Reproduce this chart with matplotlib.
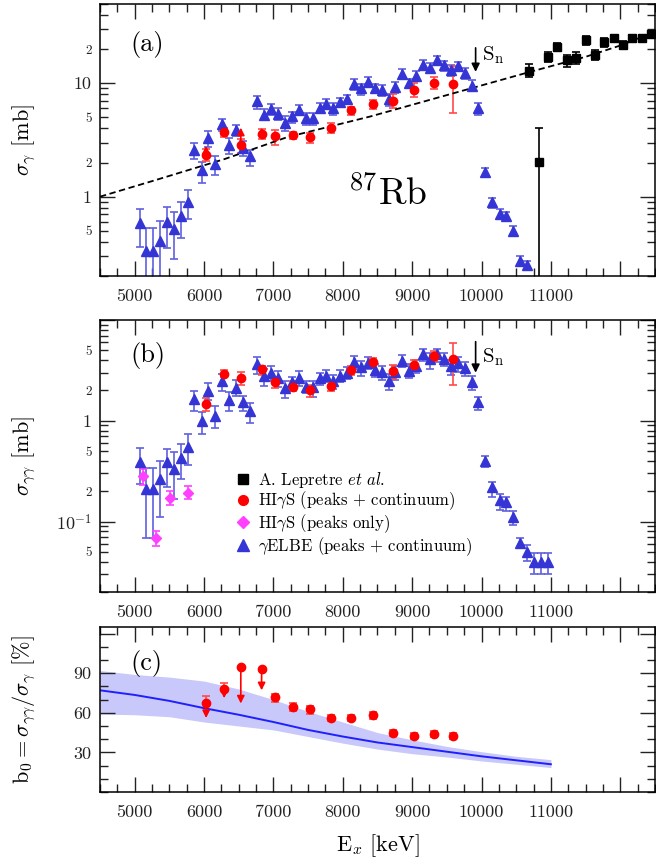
import numpy as np
import matplotlib.pyplot as plt
from matplotlib.ticker import FixedLocator, FuncFormatter, MultipleLocator
from matplotlib.lines import Line2D

plt.rcParams['font.family'] = 'cmr10'
plt.rcParams['mathtext.fontset'] = 'cm'
plt.rcParams['axes.formatter.use_mathtext'] = True
plt.rcParams['axes.unicode_minus'] = False

# ---- gELBE (peaks + continuum), same energies in (a) and (b)
elbe_E = [5070, 5170, 5270, 5370, 5465, 5565, 5665, 5765, 5860, 5965,
          6060, 6165, 6260, 6365, 6460, 6565, 6665, 6770, 6865, 6965,
          7065, 7165, 7265, 7365, 7465, 7565, 7665, 7760, 7860, 7965,
          8060, 8165, 8265, 8365, 8460, 8565, 8660, 8755, 8855, 8955,
          9055, 9160, 9260, 9360, 9460, 9560, 9655, 9760, 9860, 9955,
          10055, 10155, 10260, 10355, 10455, 10555, 10655, 10755, 10855, 10955]

elbe_sg = [0.586, 0.333, 0.333, 0.406, 0.598, 0.523, 0.67, 0.905, 2.60, 1.71,
           3.26, 1.95, 4.34, 2.87, 3.85, 2.69, 2.30, 6.93, 5.30, 5.94,
           5.41, 4.49, 5.13, 5.79, 4.96, 4.96, 6.06, 6.6, 6.06, 6.8,
           7.25, 9.8, 9.04, 10.3, 9.04, 8.8, 7.25, 9.2, 12.1, 10.1,
           11.6, 14.6, 13.7, 15.9, 14.4, 13.0, 14.1, 12.4, 9.5, 6.06,
           1.65, 0.893, 0.707, 0.67, 0.496, 0.272, 0.25]
elbe_sg_hi = [0.78, 0.53, 0.53, 0.606, 0.81, 0.74, 0.90, 1.14, 3.0, 2.01,
              3.8, 2.27, 4.86, 3.32, 4.3, 3.1, 2.6, 7.7, 5.9, 6.6,
              6.0, 5.1, 5.6, 6.4, 5.5, 5.5, 6.7, 7.3, 6.7, 7.4,
              7.9, 10.8, 9.9, 11.3, 9.9, 9.6, 8.0, 10.3, 13.3, 11.0,
              12.7, 16.0, 15.0, 17.4, 15.7, 14.4, 15.4, 13.6, 10.6, 6.7,
              1.78, 0.98, 0.78, 0.74, 0.55, 0.30, 0.27]
elbe_sg_lo = [0.36, 0.15, 0.15, 0.15, 0.355, 0.28, 0.434, 0.64, 2.13, 1.33,
              2.72, 1.54, 3.8, 2.37, 3.43, 2.3, 1.85, 5.9, 4.7, 5.2,
              4.7, 3.8, 4.5, 5.2, 4.3, 4.3, 5.5, 5.9, 5.2, 6.2,
              6.5, 8.8, 7.9, 9.3, 8.2, 7.7, 6.3, 8.2, 10.8, 9.2,
              10.4, 13.2, 12.3, 14.5, 12.9, 11.5, 12.7, 11.0, 8.5, 5.3,
              1.5, 0.80, 0.65, 0.61, 0.45, 0.25, 0.23]

elbe_sgg = [0.394, 0.209, 0.209, 0.263, 0.386, 0.331, 0.432, 0.552, 1.64, 1.0,
            1.96, 1.12, 2.49, 1.60, 2.11, 1.52, 1.24, 3.66, 2.76, 2.97,
            2.63, 2.11, 2.40, 2.63, 2.18, 2.14, 2.63, 2.80, 2.49, 2.80,
            2.95, 3.80, 3.39, 3.74, 3.19, 3.02, 2.49, 3.07, 3.94, 3.14,
            3.52, 4.59, 4.10, 4.59, 4.10, 3.52, 3.71, 3.31, 2.44, 1.52,
            0.40, 0.218, 0.163, 0.155, 0.112, 0.062, 0.050, 0.040, 0.040, 0.040]
elbe_sgg_hi = [0.543, 0.344, 0.344, 0.40, 0.53, 0.485, 0.595, 0.737, 1.98, 1.23,
               2.37, 1.39, 2.91, 1.91, 2.53, 1.77, 1.49, 4.32, 3.26, 3.52,
               3.14, 2.49, 2.74, 3.1, 2.49, 2.49, 3.0, 3.2, 2.87, 3.2,
               3.4, 4.4, 3.9, 4.3, 3.68, 3.52, 2.91, 3.52, 4.5, 3.68,
               4.0, 5.1, 4.7, 5.2, 4.7, 4.0, 4.3, 3.8, 2.8, 1.74,
               0.45, 0.245, 0.187, 0.177, 0.128, 0.069, 0.059, 0.049, 0.049, 0.049]
elbe_sgg_lo = [0.235, 0.069, 0.069, 0.11, 0.218, 0.167, 0.263, 0.365, 1.24, 0.737,
               1.60, 0.845, 1.98, 1.24, 1.77, 1.26, 0.96, 2.91, 2.23, 2.49,
               2.18, 1.68, 1.98, 2.23, 1.87, 1.74, 2.28, 2.43, 2.07, 2.43,
               2.6, 3.26, 2.8, 3.26, 2.69, 2.53, 2.0, 2.53, 3.39, 2.63,
               2.97, 3.94, 3.26, 3.86, 3.52, 2.87, 3.07, 2.8, 2.02, 1.27,
               0.35, 0.177, 0.13, 0.128, 0.093, 0.055, 0.041, 0.030, 0.030, 0.030]

# ---- HIgS (peaks + continuum)
higs_E = [6030, 6290, 6530, 6830, 7030, 7280, 7525, 7825, 8125, 8430, 8720, 9030, 9320, 9585]
higs_sg = [2.35, 3.74, 2.87, 3.55, 3.44, 3.48, 3.33, 4.06, 5.79, 6.6, 7.0, 8.76, 10.1, 9.8]
higs_sg_hi = [2.65, 4.06, 3.21, 3.93, 3.88, 3.72, 3.67, 4.49, 6.19, 7.16, 8.09, 10.0, 11.3, 14.2]
higs_sg_lo = [2.05, 3.39, 2.43, 3.21, 2.87, 3.21, 2.97, 3.63, 5.30, 5.87, 6.06, 7.55, 8.86, 5.5]
higs_sg_limit = [2.81, 4.1, 4.06, 4.06]   # lower-limit arrow tips, first four points

higs_sgg = [1.46, 2.91, 2.63, 3.26, 2.40, 2.18, 2.02, 2.23, 3.19, 3.80, 3.09, 3.60, 4.42, 4.10]
higs_sgg_hi = [1.68, 3.19, 3.02, 3.52, 2.69, 2.46, 2.28, 2.49, 3.52, 4.19, 3.60, 4.0, 4.88, 5.85]
higs_sgg_lo = [1.26, 2.69, 2.28, 2.87, 2.11, 1.96, 1.73, 1.96, 2.87, 3.33, 2.59, 3.19, 3.89, 2.28]

b0 = [67.3, 77.8, 94.3, 93.5, 71.8, 64.3, 62.8, 56, 56, 58, 44.75, 42.25, 44, 42.5]
b0_hi = [72.8, 82.8, 94.3, 93.5, 74.3, 67.3, 65.3, 58.5, 58.5, 60.3, 47.0, 44.5, 46.3, 44.8]
b0_lo = [67.3, 77.8, 94.3, 93.5, 68.5, 61.0, 59.3, 53.5, 53.5, 55.3, 42.5, 40.0, 41.8, 40.3]
b0_limit = [56, 71, 67, 77]   # upper-limit arrow tips, first four points

# ---- HIgS (peaks only)
peak_E = [5120, 5310, 5510, 5765]
peak_sgg = [0.284, 0.069, 0.173, 0.194]
peak_sgg_hi = [0.331, 0.081, 0.20, 0.223]
peak_sgg_lo = [0.231, 0.057, 0.146, 0.169]

# ---- A. Lepretre et al.
lep_E = [10685, 10825, 10955, 11085, 11230, 11365, 11505, 11635, 11770, 11905, 12045, 12175, 12310, 12440]
lep_sg = [12.9, 2.04, 17.1, 20.8, 15.9, 16.8, 24.1, 17.8, 23.0, 25.1, 21.9, 25.1, 25.1, 27.2]
lep_sg_hi = [14.7, 4.06, 18.9, 22.6, 17.8, 18.7, 26.0, 19.8, 25.0, 26.8, 23.8, 26.8, 26.8, 29.0]
lep_sg_lo = [11.3, 0.1, 15.5, 19.3, 14.0, 14.9, 21.9, 16.1, 21.0, 23.1, 20.2, 23.4, 23.4, 25.5]

# ---- GDR tail (dashed)
tail_E = [4500, 5300, 6300, 7200, 8400, 9900, 10700, 11500, 12000, 12500]
tail_sg = [1.0, 1.40, 2.15, 3.35, 5.1, 9.2, 12.6, 17.1, 21.5, 28.5]

# ---- statistical model branching (panel c)
model_E = [4500, 5000, 5500, 6000, 6500, 7000, 7500, 8000, 8500, 9000, 9500, 10000, 10500, 11000]
model_b0 = [77, 73.5, 69, 63.5, 58.5, 53, 47, 42, 37.5, 34, 30.5, 27, 24, 21]
model_lo = [59, 58.5, 57, 53, 50, 47, 42, 37, 32.5, 29, 26.5, 23.5, 21, 18.5]
model_hi = [92, 89, 87, 84, 78, 70, 61, 53, 45, 39.5, 34.5, 30.5, 27, 24.5]

BLUE = '#3535d5'
BLUE_E = '#6060e0'
RED = '#ff0000'
RED_E = '#ff4a4a'
MAG = '#ff40ff'

fig = plt.figure(figsize=(6.56, 8.6), dpi=100)
axa = fig.add_axes([0.1524, 0.6791, 0.846, 0.3163])
axb = fig.add_axes([0.1524, 0.3116, 0.846, 0.3163])
axc = fig.add_axes([0.1524, 0.0791, 0.846, 0.1919])


def yerr(v, lo, hi):
    v = np.array(v); return [v - np.array(lo), np.array(hi) - v]


ekw = dict(capsize=3, elinewidth=1.2, capthick=1.2, ls='none')

# panel (a)
n = len(elbe_sg)
axa.errorbar(elbe_E[:n], elbe_sg, yerr=yerr(elbe_sg, elbe_sg_lo, elbe_sg_hi), fmt='^',
             color=BLUE, ecolor=BLUE_E, ms=6.5, **ekw)
axa.errorbar(higs_E, higs_sg, yerr=yerr(higs_sg, higs_sg_lo, higs_sg_hi), fmt='o',
             color=RED, ecolor=RED_E, ms=6, **ekw)
for e, v, t in zip(higs_E, higs_sg, higs_sg_limit):
    axa.annotate('', xy=(e, t), xytext=(e, v),
                 arrowprops=dict(arrowstyle='-|>', color=RED, lw=1.2, mutation_scale=11,
                                 shrinkA=0, shrinkB=0))
axa.errorbar(lep_E, lep_sg, yerr=yerr(lep_sg, lep_sg_lo, lep_sg_hi), fmt='s',
             color='k', ecolor='k', ms=5.5, **ekw)
axa.plot(tail_E, tail_sg, color='k', lw=1.3, dashes=(3.5, 2))
axa.set_yscale('log')
axa.set_ylim(0.2, 50)
axa.annotate('', xy=(9915, 12.6), xytext=(9915, 20.5),
             arrowprops=dict(arrowstyle='-|>', color='k', lw=1.2, mutation_scale=12,
                             shrinkA=0, shrinkB=0))
axa.text(10010, 17.6, r'S$_\mathrm{n}$', fontsize=15, va='center')
axa.text(0.447, 0.26, r'$^{87}$Rb', transform=axa.transAxes, fontsize=27, va='baseline')
axa.text(0.054, 0.85, '(a)', transform=axa.transAxes, fontsize=19, va='center')
axa.set_ylabel(r'$\sigma_\gamma$ [mb]', fontsize=16)

# panel (b)
axb.errorbar(elbe_E, elbe_sgg, yerr=yerr(elbe_sgg, elbe_sgg_lo, elbe_sgg_hi), fmt='^',
             color=BLUE, ecolor=BLUE_E, ms=6.5, **ekw)
axb.errorbar(peak_E, peak_sgg, yerr=yerr(peak_sgg, peak_sgg_lo, peak_sgg_hi), fmt='D',
             color=MAG, ecolor=MAG, ms=5, **ekw)
axb.errorbar(higs_E, higs_sgg, yerr=yerr(higs_sgg, higs_sgg_lo, higs_sgg_hi), fmt='o',
             color=RED, ecolor=RED_E, ms=6, **ekw)
axb.set_yscale('log')
axb.set_ylim(0.02, 10)
axb.annotate('', xy=(9915, 3.0), xytext=(9915, 6.1),
             arrowprops=dict(arrowstyle='-|>', color='k', lw=1.2, mutation_scale=12,
                             shrinkA=0, shrinkB=0))
axb.text(10010, 4.3, r'S$_\mathrm{n}$', fontsize=15, va='center')
axb.text(0.054, 0.871, '(b)', transform=axb.transAxes, fontsize=19, va='center')
axb.set_ylabel(r'$\sigma_{\gamma\gamma}$ [mb]', fontsize=16)
handles = [Line2D([], [], marker='s', color='k', ls='none', ms=7),
           Line2D([], [], marker='o', color=RED, ls='none', ms=7),
           Line2D([], [], marker='D', color=MAG, ls='none', ms=6),
           Line2D([], [], marker='^', color=BLUE, ls='none', ms=8)]
labels = [r'A. Lepretre $\mathit{et\ al.}$', r'HI$\gamma$S (peaks + continuum)',
          r'HI$\gamma$S (peaks only)', r'$\gamma$ELBE (peaks + continuum)']
axb.legend(handles, labels, loc='upper left', bbox_to_anchor=(0.245, 0.45), frameon=False,
           fontsize=12, handlelength=0.8, handletextpad=0.5, labelspacing=0.0,
           borderpad=0, borderaxespad=0)

# panel (c)
axc.fill_between(model_E, model_lo, model_hi, color='#c8c8fa', lw=0)
axc.plot(model_E, model_b0, color='#1f1fff', lw=1.4)
axc.errorbar(higs_E, b0, yerr=yerr(b0, b0_lo, b0_hi), fmt='o', color=RED, ecolor=RED_E, ms=6, **ekw)
for e, v, t in zip(higs_E, b0, b0_limit):
    axc.annotate('', xy=(e, t), xytext=(e, v),
                 arrowprops=dict(arrowstyle='-|>', color=RED, lw=1.2, mutation_scale=11,
                                 shrinkA=0, shrinkB=0))
axc.set_ylim(0, 125)
axc.text(0.054, 0.78, '(c)', transform=axc.transAxes, fontsize=19, va='center')
axc.set_ylabel(r'b$_0 = \sigma_{\gamma\gamma}/\sigma_\gamma$ [%]', fontsize=16)
axc.set_xlabel(r'E$_x$ [keV]', fontsize=16)
axc.xaxis.set_label_coords(0.5, -0.245)
axc.yaxis.set_major_locator(FixedLocator([30, 60, 90, 120]))
axc.yaxis.set_minor_locator(MultipleLocator(10))
axc.yaxis.set_major_formatter(FuncFormatter(lambda v, p: '%d' % v if v < 100 else ''))

# log tick labels, ROOT style
decades = [0.01, 0.1, 1, 10]
minors = [d * k for d in decades for k in range(2, 10)]
lab_a = {0.5: '5', 2: '2', 5: '5', 20: '2'}
lab_b = {0.05: '5', 0.2: '2', 0.5: '5', 2: '2', 5: '5'}
maj_lab = {0.1: r'$10^{-1}$', 1: '1', 10: '10'}
for ax, lab, top in ((axa, lab_a, 50), (axb, lab_b, 10)):
    ax.yaxis.set_major_locator(FixedLocator([0.1, 1, 10]))
    ax.yaxis.set_minor_locator(FixedLocator(minors))
    ax.yaxis.set_major_formatter(FuncFormatter(
        lambda v, p, top=top: maj_lab.get(round(v, 3), '') if v < top * 0.99 else ''))
    ax.yaxis.set_minor_formatter(FuncFormatter(lambda v, p, lab=lab: lab.get(round(v, 3), '')))

for ax in (axa, axb, axc):
    ax.set_xlim(4500, 12500)
    ax.xaxis.set_major_locator(MultipleLocator(1000))
    ax.xaxis.set_minor_locator(MultipleLocator(250))
    ax.xaxis.set_major_formatter(FuncFormatter(lambda v, p: '%d' % v if v < 11500 else ''))
    ax.tick_params(which='both', direction='in', top=True, right=True, width=1.0,
                   colors='#222222', labelsize=13)
    ax.tick_params(which='major', length=11)
    ax.tick_params(which='minor', length=5.5)
    ax.tick_params(axis='x', which='both', pad=9)
    ax.tick_params(axis='y', which='both', pad=6)
    ax.yaxis.set_label_coords(-0.112, 0.5)
    for s in ax.spines.values():
        s.set_linewidth(1.1)
axa.tick_params(axis='y', which='minor', labelsize=9.5)
axb.tick_params(axis='y', which='minor', labelsize=9.5)

fig.savefig('out.png', dpi=100)
